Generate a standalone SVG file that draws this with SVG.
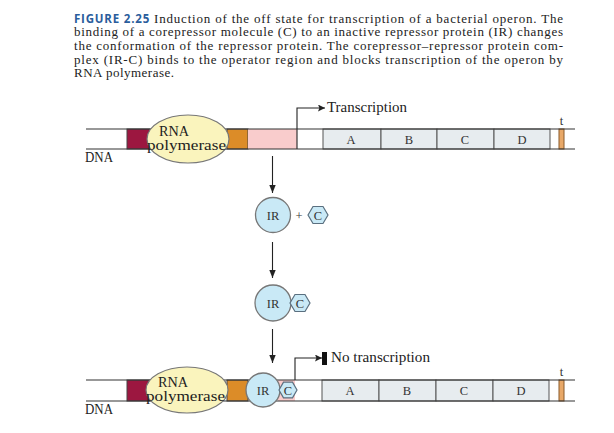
<svg xmlns="http://www.w3.org/2000/svg" width="614" height="433" viewBox="0 0 614 433">
<defs>
<style>
.cap{font-family:"Liberation Serif",serif;font-size:13px;fill:#222}
.fig{font-family:"Open Sans","Liberation Sans",sans-serif;font-size:11.5px;font-weight:bold;fill:#2a5d9c}
.lbl{font-family:"Liberation Serif",serif;font-size:14px;fill:#222}
.gene{font-family:"Liberation Serif",serif;font-size:12.5px;fill:#333;text-anchor:middle}
.dna{stroke:#333;stroke-width:1.2;fill:none}
.box{stroke:#444;stroke-width:1}
.gbox{fill:#e7ecef;stroke:#555;stroke-width:1}
.ell{fill:#faf4bd;stroke:#777;stroke-width:1.2}
.ir{fill:#c9e9f6;stroke:#777;stroke-width:1.3}
.hex{fill:#c9e9f6;stroke:#5a6f7f;stroke-width:1.2}
.conn{stroke:#222;stroke-width:1.1;fill:none}
</style>
<marker id="ah" viewBox="0 0 10 10" refX="10" refY="5" markerWidth="8" markerHeight="9" markerUnits="userSpaceOnUse" orient="auto"><path d="M0,1 L10,5 L0,9 Z" fill="#222"/></marker>
<marker id="ahd" viewBox="0 0 10 10" refX="10" refY="5" markerWidth="12" markerHeight="7" markerUnits="userSpaceOnUse" orient="auto"><path d="M0,0 L10,5 L0,10 L2,5 Z" fill="#222"/></marker>
</defs>
<rect width="614" height="433" fill="#fff"/>

<g id="caption">
<text x="74" y="22.5" class="cap" textLength="489" lengthAdjust="spacing"><tspan class="fig">FIGURE 2.25</tspan> Induction of the off state for transcription of a bacterial operon. The</text>
<text x="74" y="36.2" class="cap" textLength="489" lengthAdjust="spacing">binding of a corepressor molecule (C) to an inactive repressor protein (IR) changes</text>
<text x="74" y="49.9" class="cap" textLength="489" lengthAdjust="spacing">the conformation of the repressor protein. The corepressor–repressor protein com-</text>
<text x="74" y="63.6" class="cap" textLength="489" lengthAdjust="spacing">plex (IR-C) binds to the operator region and blocks transcription of the operon by</text>
<text x="74" y="77.3" class="cap" textLength="100" lengthAdjust="spacing">RNA polymerase.</text>
</g>

<g id="dna-top">
<rect x="127" y="129" width="23" height="20" fill="#9c1740" class="box"/>
<rect x="227" y="129" width="21" height="20" fill="#dc8c28" class="box"/>
<rect x="248" y="129" width="49" height="20" fill="#f9cccc" stroke="none"/>
<rect x="323" y="129" width="58" height="20" class="gbox"/>
<rect x="381" y="129" width="56" height="20" class="gbox"/>
<rect x="437" y="129" width="57" height="20" class="gbox"/>
<rect x="494" y="129" width="56" height="20" class="gbox"/>
<rect x="559" y="129" width="5" height="20" fill="#e8a868" stroke="#8a5a2a" stroke-width="1"/>
<line x1="297" y1="129" x2="297" y2="149" class="dna"/>
<line x1="86" y1="129" x2="575" y2="129" class="dna"/>
<line x1="86" y1="149" x2="575" y2="149" class="dna"/>
<text x="351" y="143.5" class="gene">A</text>
<text x="409" y="143.5" class="gene">B</text>
<text x="465" y="143.5" class="gene">C</text>
<text x="522" y="143.5" class="gene">D</text>
<text x="561.5" y="125" class="gene">t</text>
<text x="85" y="162" class="lbl" textLength="28" lengthAdjust="spacingAndGlyphs">DNA</text>
</g>

<g id="rnap-top">
<ellipse cx="188" cy="139" rx="41" ry="24" class="ell"/>
<text x="159" y="136" class="lbl" textLength="30" lengthAdjust="spacingAndGlyphs">RNA</text>
<text x="147" y="150" class="lbl" textLength="79" lengthAdjust="spacingAndGlyphs">polymerase</text>
</g>

<g id="transcription">
<path d="M297,129 V108 H325" class="conn" marker-end="url(#ahd)"/>
<text x="327" y="112" class="lbl" textLength="80" lengthAdjust="spacingAndGlyphs">Transcription</text>
</g>

<g id="ir-plus-c">
<circle cx="273" cy="215" r="17.5" class="ir"/>
<text x="273" y="219.5" class="gene">IR</text>
<text x="299" y="219.5" class="gene">+</text>
<polygon points="308,215 313,206.5 323,206.5 328,215 323,223.5 313,223.5" class="hex"/>
<text x="318" y="219.5" class="gene">C</text>
</g>

<g id="ir-c">
<circle cx="273" cy="303" r="18" class="ir"/>
<text x="273" y="307.5" class="gene">IR</text>
<polygon points="290,303 295,294.5 305,294.5 310,303 305,311.5 295,311.5" class="hex"/>
<text x="300" y="307.5" class="gene">C</text>
</g>

<g id="dna-bottom">
<rect x="127" y="380" width="23" height="21" fill="#9c1740" class="box"/>
<rect x="227" y="380" width="21" height="21" fill="#dc8c28" class="box"/>
<rect x="278" y="380" width="17" height="21" fill="#f9cccc" stroke="none"/>
<rect x="322" y="380" width="57" height="21" class="gbox"/>
<rect x="379" y="380" width="57" height="21" class="gbox"/>
<rect x="436" y="380" width="57" height="21" class="gbox"/>
<rect x="493" y="380" width="56" height="21" class="gbox"/>
<rect x="559" y="380" width="5" height="21" fill="#e8a868" stroke="#8a5a2a" stroke-width="1"/>
<line x1="86" y1="380" x2="575" y2="380" class="dna"/>
<line x1="86" y1="401" x2="575" y2="401" class="dna"/>
<text x="350" y="395" class="gene">A</text>
<text x="407" y="395" class="gene">B</text>
<text x="464" y="395" class="gene">C</text>
<text x="521" y="395" class="gene">D</text>
<text x="561.5" y="376" class="gene">t</text>
<text x="85" y="414" class="lbl" textLength="28" lengthAdjust="spacingAndGlyphs">DNA</text>
</g>

<g id="rnap-bottom">
<ellipse cx="187" cy="390" rx="41" ry="23" class="ell"/>
<text x="158" y="387" class="lbl" textLength="30" lengthAdjust="spacingAndGlyphs">RNA</text>
<text x="146" y="401" class="lbl" textLength="79" lengthAdjust="spacingAndGlyphs">polymerase</text>
</g>

<g id="ir-c-bound">
<circle cx="263" cy="390" r="17" class="ir"/>
<text x="263" y="394.5" class="gene">IR</text>
<polygon points="279,390 283.5,382.2 292.5,382.2 297,390 292.5,397.8 283.5,397.8" class="hex"/>
<text x="288" y="394.5" class="gene">C</text>
</g>

<g id="no-transcription">
<path d="M295,380 V358 H322" class="conn" marker-end="url(#ahd)"/>
<rect x="322" y="352" width="5" height="13" fill="#111"/>
<text x="331" y="362" class="lbl" textLength="99" lengthAdjust="spacingAndGlyphs">No transcription</text>
</g>

<g id="connectors">
<line x1="272.5" y1="156" x2="272.5" y2="193" class="conn" marker-end="url(#ah)"/>
<line x1="272.5" y1="242" x2="272.5" y2="278" class="conn" marker-end="url(#ah)"/>
<line x1="272.5" y1="329" x2="272.5" y2="363" class="conn" marker-end="url(#ah)"/>
</g>
</svg>
